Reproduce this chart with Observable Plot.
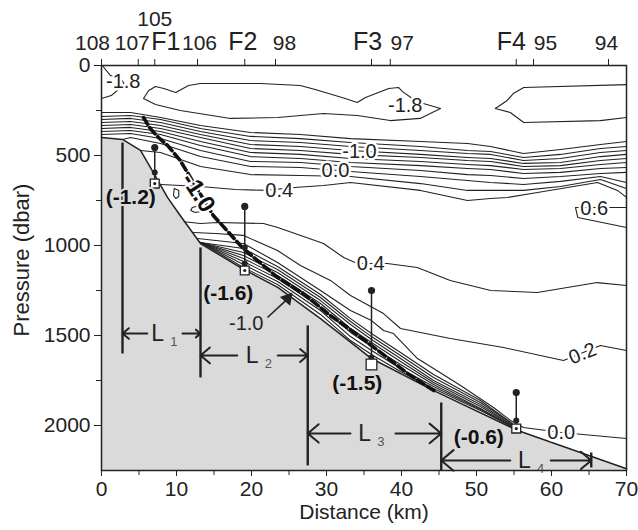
<!DOCTYPE html>
<html>
<head>
<meta charset="utf-8">
<script src="https://cdn.jsdelivr.net/npm/d3@7"></script>
<script src="https://cdn.jsdelivr.net/npm/@observablehq/plot@0.6"></script>
<style>
  body { margin: 0; background: #fff; }
  #chart svg { display: block; }
</style>
</head>
<body>
<div id="chart"></div>
<script>
// ---- Section data: distance along section (km), pressure (dbar) ----

// Seafloor profile under the section
const seafloor = [[0,400],[2.8,411],[5.2,472],[6.9,594],[8.8,733],[10.3,822],[13.2,989],
  [18.5,1122],[23.5,1233],[29.2,1406],[36,1628],[44.3,1806],[55.5,2028],[70,2240]];

// Thermocline band: isotherms sampled at common distances
const bandKm = [0, 3.87, 7.87, 13.2, 19.87, 26.53, 33.2, 42.53, 48.8, 51.87, 56.27, 61.2, 66.53, 70];
const tM16 = [261,261,289,333,372,383,406,422,433,450,489,467,439,422];
const tM14 = [283,278,300,350,394,406,428,450,472,478,511,494,461,450];
const tM12 = [300,294,317,367,417,428,450,472,489,494,528,517,483,472];
const tM10 = [317,311,333,383,439,450,472,494,511,517,544,539,506,494];
const tM08 = [333,328,350,400,461,472,494,511,528,533,561,556,528,517];
const tM06 = [350,344,367,422,483,494,517,533,550,556,578,572,550,539];
const tM04 = [367,361,383,444,506,517,539,556,572,578,600,594,572,567];
const tM02 = [383,378,406,472,533,539,561,583,606,611,628,617,600,594];

// Warmer isotherms of the band, which start on the upper slope
const tP00upper = [[2.8,411],[3.87,400],[7.87,433],[13.2,506],[19.87,561],[26.53,567],[33.2,589],
  [42.53,617],[48.8,639],[51.87,650],[56.27,661],[61.2,644],[66.53,617],[70,650]];
const tP02upper = [[5.2,472],[7.87,483],[13.2,561],[19.87,606],[26.53,611],[33.2,617],[42.53,656],
  [48.8,694],[51.87,694],[56.27,694],[61.2,672],[66.53,633],[70,683]];
const tP04upper = [[7.87,661],[13.2,672],[17.87,689],[21.87,694],[25.73,678],[29.6,667],[33.2,650],
  [42.53,694],[48.8,750],[51.87,739],[54.13,733],[58.13,706],[66.13,650],[68.8,694],[70,733]];

// Cold surface water (-1.8)
const tM18corner = [[0,183],[1.3,167],[2.1,139],[3,100],[2.5,70],[1.2,56],[0.1,0]];
const tM18lens = [[40.1,144],[42,200],[45.2,239],[44.1,261],[42.5,294],[38.5,306],[34.1,278],
  [29.6,267],[23.5,289],[17.2,294],[10.5,250],[7.2,217],[5.6,183],[6.3,139],[7.2,117],[8.3,128],
  [9.9,150],[11.6,111],[13.2,100],[21.2,100],[26.5,111],[28.5,133],[32.5,183],[34.1,206],
  [35.2,178],[38.3,128],[39.6,122],[40.1,144]];
const tM18east = [[70,106],[56.3,122],[54.9,156],[54.1,194],[52.5,239],[54.5,261],[56.3,317],
  [66.5,306],[70,289]];

// Small patches near F1
const patchA = [[9.7,683],[10.3,694],[10.3,728],[9.9,739],[9.6,722],[9.7,683]];
const patchB = [[13.1,778],[12.1,789],[11.9,806],[12.5,817],[13.2,811]];

// Warm intrusion at the eastern end (0.6)
const tP06 = [[70,789],[63.2,789],[63.5,844],[70,900]];

// Deep isotherms above the slope
const tP04lower = [[11.0,868],[13.2,878],[15.5,872],[21.6,878],[23.5,900],[29.6,989],[32.3,1067],
  [34.1,1100],[38.1,1100],[42.1,1122],[46.5,1194],[51.9,1250],[58.1,1261],[66.1,1206],[70,1222]];
const tP02lower = [[12.27,928],[15.2,933],[18.93,944],[23.47,1028],[26.53,1111],[30.53,1194],
  [33.2,1278],[37.6,1378],[39.87,1461],[46.53,1517],[53.6,1567],[61.6,1639],[66.53,1556],[70,1583]];
const tP00lower = [[12.8,961],[18.93,989],[23.47,1094],[29.2,1250],[33.2,1361],[36,1417],[37.6,1472],
  [38.93,1489],[42.13,1628],[44.27,1683],[47.87,1778],[52.27,1900],[54.53,1972],[56.27,2011],
  [61.33,2039],[70,2072]];

// Overflow plume hugging the slope, sampled at common distances
const plumeKm = [13.2, 18.93, 23.47, 29.2, 33.2, 36.0, 39.87, 44.27, 50.53, 55.47];
const plume1 = [983,1122,1217,1383,1528,1606,1700,1794,1917,2022];
const plume2 = [983,1106,1200,1361,1506,1583,1683,1783,1911,2022];
const plume3 = [983,1089,1183,1344,1483,1561,1661,1772,1906,2022];
const plume4 = [983,1072,1167,1322,1461,1539,1644,1761,1894,2017];
const plume5 = [983,1056,1150,1306,1439,1522,1628,1750,1883,2017];
const plume6 = [983,1039,1133,1289,1422,1506,1611,1733,1872,2011];
const plume7 = [983,1017,1117,1272,1406,1489,1594,1717,1861,2011];

// The -1.0 isotherm traced down the slope (heavy dashed)
const tM10core = [[5.6,289],[6.5,350],[7.6,400],[8.8,444],[10.5,528],[14.9,833],[18.9,1017],
  [23.5,1178],[26.9,1267],[30.5,1389],[33.9,1489],[37.2,1594],[40.8,1711],[44.3,1806]];

// Contour labels
const contourText = ["-1.8", "-1.8", "-1.0", "0.0", "0.4", "0.6", "0.4", "0.0"];
const contourKm   = [2.9, 40.5, 34.4, 31.2, 23.7, 65.7, 35.9, 61.3];
const contourP    = [89, 222, 478, 583, 694, 794, 1100, 2039];

// Stations
const stationKm   = [7.1, 19.1, 36.0, 55.3];
const stationTopP = [456, 783, 1250, 1817];
const stationBotP = [656, 1139, 1661, 2017];
const midDotKm = [7.1, 19.1, 19.1, 36.0, 55.3];
const midDotP  = [594, 1011, 1100, 1622, 1972];
const stationValue   = ["(-1.2)", "(-1.6)", "(-1.5)", "(-0.6)"];
const stationValueKm = [3.9, 16.9, 34.1, 50.3];
const stationValueP  = [733, 1267, 1767, 2067];

// Segment lengths L1..L4
const segEdgesKm = [2.8, 13.2, 27.5, 45.3, 65.3];
const segBarTopP = [428, 1011, 1444, 1872, 2150];
const segBarBotP = [1600, 1733, 2222, 2250, 2233];
const segArrowP  = [1489, 1611, 2044, 2194];
const segGapKm   = [[6.1, 10.8], [18.1, 23.5], [33.2, 39.2], [54.5, 59.9]];
const segName    = ["1", "2", "3", "4"];
const segLabelKm = [7.5, 20.1, 35.1, 56.4];

// Top axis: CTD station numbers and mooring sites
const topTickKm   = [0, 4.9, 7.1, 12.8, 19.1, 23.2, 36.0, 38.5, 55.3, 57.6, 67.6];
const topTickText = ["108", "107", "F1", "106", "F2", "98", "F3", "97", "F4", "95", "94"];

// ---- Drawing ----
const pMax = 2250;
const ink = "#222";
const grey = "#dadada";
const font = "'Liberation Sans', Arial, Helvetica, sans-serif";

const lineRows = [];
let lineId = 0;
function addPts(pts) { const id = lineId++; pts.forEach(([km, p]) => lineRows.push({id, km, p})); }
function addSeries(kms, ps) { addPts(kms.map((k, i) => [k, ps[i]])); }

[tM16, tM14, tM12, tM10, tM08, tM06, tM04, tM02].forEach(ps => addSeries(bandKm, ps));
[plume1, plume2, plume3, plume4, plume5, plume6, plume7].forEach(ps => addSeries(plumeKm, ps));
[tP00upper, tP02upper, tP04upper, tM18corner, tM18lens, tM18east, patchA, patchB, tP06,
 tP04lower, tP02lower, tP00lower].forEach(addPts);

const contourLabels = contourText.map((t, i) => ({t, km: contourKm[i], p: contourP[i]}));
const stations = stationKm.map((km, i) => ({km, top: stationTopP[i], bot: stationBotP[i], big: i === 2}));
const smallSites = stations.filter(d => !d.big);
const bigSites = stations.filter(d => d.big);
const midDots = midDotKm.map((km, i) => ({km, p: midDotP[i]}));
const stationVals = stationValue.map((t, i) => ({t, km: stationValueKm[i], p: stationValueP[i]}));
const segBars = segEdgesKm.map((km, i) => ({km, top: segBarTopP[i], bot: segBarBotP[i]}));
const segArrows = [];
segGapKm.forEach(([a, b], i) => {
  segArrows.push({x1: a, x2: segEdgesKm[i], p: segArrowP[i]});
  segArrows.push({x1: b, x2: segEdgesKm[i + 1], p: segArrowP[i]});
});
const segLabels = segName.map((n, i) => ({n, km: segLabelKm[i], p: segArrowP[i]}));

// nudges (px) that keep the crowded top labels apart
const topNudge = [-9, -6, 11, 2, -2, 9, -4, 12, -5, 12, -2];
const topLabelMarks = topTickText.map((t, i) => {
  const isSite = t.startsWith("F");
  return Plot.text([t], {x: topTickKm[i], y: 0, text: d => d, dx: topNudge[i],
    dy: isSite ? -24 : -22, fontSize: isSite ? 25 : 21, fill: ink});
});

const chart = Plot.plot({
  width: 638,
  height: 530,
  marginLeft: 101,
  marginRight: 12,
  marginTop: 65,
  marginBottom: 60,
  style: {fontFamily: font, fontSize: "21px", color: ink, background: "#fff"},
  x: {domain: [0, 70], label: null},
  y: {domain: [0, pMax], reverse: true, label: null},
  marks: [
    Plot.areaY(seafloor, {x: d => d[0], y1: d => d[1], y2: pMax, fill: grey}),
    Plot.line(seafloor, {x: d => d[0], y: d => d[1], stroke: ink, strokeWidth: 1.5}),
    Plot.line(lineRows, {x: "km", y: "p", z: "id", stroke: ink, strokeWidth: 1.1}),
    Plot.line(tM10core, {x: d => d[0], y: d => d[1], stroke: "#111", strokeWidth: 3.6,
      strokeDasharray: "8,4"}),
    // contour labels on white
    Plot.text(contourLabels, {x: "km", y: "p", text: "t", fill: ink, stroke: "white",
      strokeWidth: 5, fontSize: 20}),
    Plot.text(["0.2"], {x: 64.13, y: 1600, text: d => d, rotate: -22, fill: ink,
      stroke: "white", strokeWidth: 5, fontSize: 20}),
    Plot.text(["-1.0"], {x: 12.9, y: 706, text: d => d, rotate: 57, fill: "#111",
      stroke: "white", strokeWidth: 4, fontSize: 24, fontWeight: "bold"}),
    // callout for the plume core
    Plot.text(["-1.0"], {x: 19.3, y: 1433, text: d => d, fill: ink, fontSize: 20}),
    Plot.link([{x1: 22.13, y1: 1400, x2: 24.6, y2: 1305}], {x1: "x1", y1: "y1", x2: "x2", y2: "y2",
      stroke: ink, strokeWidth: 1.6}),
    Plot.dot([{x: 24.8, y: 1294}], {x: "x", y: "y", symbol: "triangle", r: 5, rotate: 40, fill: ink}),
    // segment bars and arrows
    Plot.link(segBars, {x1: "km", x2: "km", y1: "top", y2: "bot", stroke: ink, strokeWidth: 2.4}),
    Plot.arrow(segArrows, {x1: "x1", x2: "x2", y1: "p", y2: "p", stroke: ink, strokeWidth: 2,
      headLength: 12, headAngle: 80}),
    Plot.text(segLabels, {x: "km", y: "p", text: () => "L", fill: ink, fontSize: 23}),
    Plot.text(segLabels, {x: "km", y: "p", text: "n", dx: 16, dy: 8, fill: "#555", fontSize: 13}),
    // stations
    Plot.link(stations, {x1: "km", x2: "km", y1: "top", y2: "bot", stroke: ink, strokeWidth: 1.5}),
    Plot.dot(stations, {x: "km", y: "top", r: 3.6, fill: ink}),
    Plot.dot(midDots, {x: "km", y: "p", r: 3, fill: ink}),
    Plot.dot(smallSites, {x: "km", y: "bot", symbol: "square", r: 5, fill: "white",
      stroke: ink, strokeWidth: 1.3}),
    Plot.dot(bigSites, {x: "km", y: "bot", symbol: "square", r: 6, fill: "white",
      stroke: ink, strokeWidth: 1.3}),
    Plot.dot(smallSites, {x: "km", y: "bot", r: 1.6, fill: ink}),
    Plot.text(stationVals, {x: "km", y: "p", text: "t", fill: "#111", fontWeight: "bold",
      fontSize: 21, stroke: grey, strokeWidth: 4}),
    // axes
    Plot.axisX({anchor: "bottom", ticks: d3.range(0, 71, 10), tickSize: 6, tickPadding: 5,
      fontSize: 21, label: null}),
    Plot.axisX(d3.range(5, 70, 10), {anchor: "bottom", tickSize: 5, tickFormat: () => "", label: null}),
    Plot.axisY({anchor: "left", ticks: [0, 500, 1000, 1500, 2000], tickSize: 7, tickPadding: 4,
      tickFormat: d3.format("d"), fontSize: 21, label: null}),
    Plot.axisY([250, 750, 1250, 1750], {anchor: "left", tickSize: 5, tickFormat: () => "", label: null}),
    Plot.axisX(topTickKm, {anchor: "top", tickSize: 7, tickFormat: () => "", label: null}),
    ...topLabelMarks,
    Plot.text(["105"], {x: 7.1, y: 0, text: d => d, dy: -46, fontSize: 21, fill: ink}),
    Plot.frame({stroke: ink, strokeWidth: 1.5}),
    Plot.text(["Distance (km)"], {frameAnchor: "bottom", dy: 48, text: d => d, fontSize: 21, fill: ink}),
    Plot.text(["Pressure (dbar)"], {frameAnchor: "left", textAnchor: "middle", dx: -80, dy: -8,
      rotate: -90, text: d => d, fontSize: 22, fill: ink})
  ]
});

document.getElementById("chart").appendChild(chart);
</script>
</body>
</html>
